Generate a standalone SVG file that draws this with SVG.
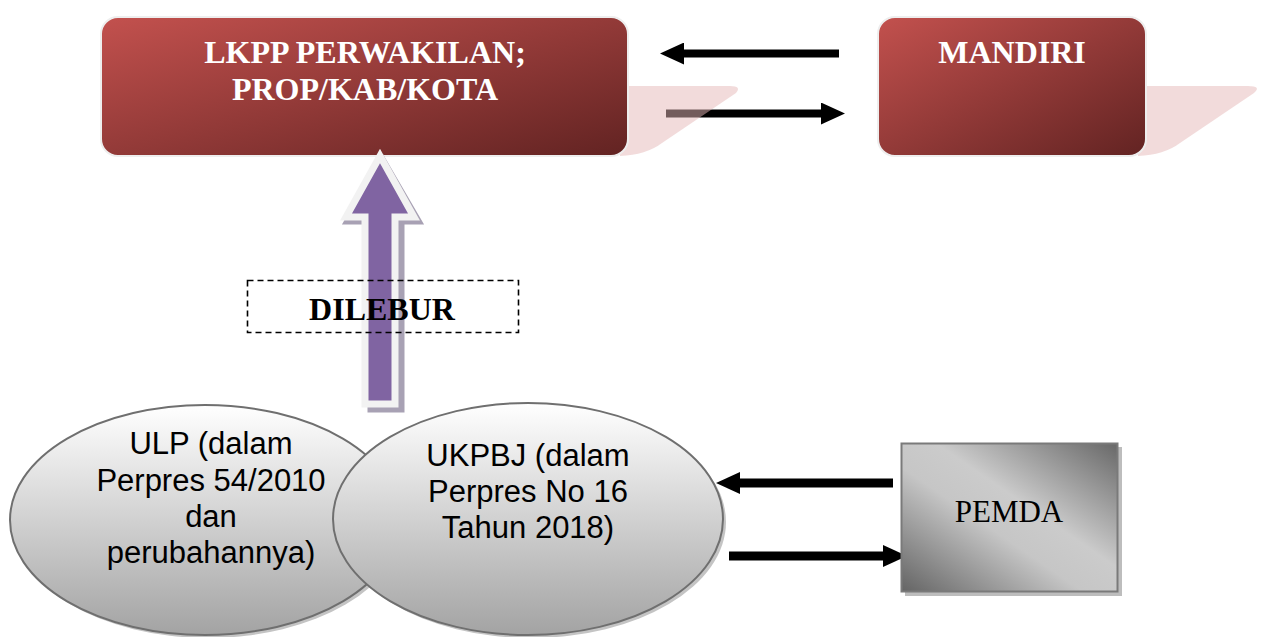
<svg xmlns="http://www.w3.org/2000/svg" width="1264" height="637" viewBox="0 0 1264 637">
<style>
.boxt{font-family:"Liberation Serif","Times New Roman",serif;font-weight:bold;font-size:32px;fill:#ffffff;text-anchor:middle}
.ellt{font-family:"Liberation Sans",Arial,sans-serif;font-size:31px;fill:#000000;text-anchor:middle}
.shad{fill:#e6b8b8;opacity:0.5}
.conn{stroke:#000000;fill:none}
</style>
<defs>
<linearGradient id="red" x1="0" y1="0" x2="1" y2="1">
<stop offset="0" stop-color="#c3514e"/>
<stop offset="1" stop-color="#622322"/>
</linearGradient>
<linearGradient id="ell" x1="0" y1="0" x2="0" y2="1">
<stop offset="0" stop-color="#ffffff"/>
<stop offset="1" stop-color="#a3a3a3"/>
</linearGradient>
<linearGradient id="gray" x1="0" y1="1" x2="1" y2="0">
<stop offset="0" stop-color="#646464"/>
<stop offset="0.42" stop-color="#c6c6c6"/>
<stop offset="0.58" stop-color="#cbcbcb"/>
<stop offset="1" stop-color="#686868"/>
</linearGradient>
<marker id="ah" markerUnits="userSpaceOnUse" markerWidth="24" markerHeight="22" refX="0" refY="11" orient="auto">
<path d="M0,0 L24,11 L0,22 z" fill="#000000"/>
</marker>
</defs>

<g id="connectors">
<line class="conn" x1="839" y1="53.5" x2="684" y2="53.5" stroke-width="8" marker-end="url(#ah)"/>
<line class="conn" x1="666" y1="113.5" x2="821" y2="113.5" stroke-width="8" marker-end="url(#ah)"/>
<line class="conn" x1="893" y1="483" x2="740" y2="483" stroke-width="9" marker-end="url(#ah)"/>
<line class="conn" x1="729" y1="556" x2="883" y2="556" stroke-width="9" marker-end="url(#ah)"/>
</g>

<g id="lkpp">
<path class="shad" d="M620,86 L730,86 Q742,86 736,93 L662,143 Q646,155 620,156 Z"/>
<rect x="101" y="17" width="527" height="139" rx="17" fill="url(#red)" stroke="#eeeeee" stroke-width="2"/>
<text class="boxt" x="365" y="63">LKPP PERWAKILAN;</text>
<text class="boxt" x="365" y="100">PROP/KAB/KOTA</text>
</g>

<g id="mandiri">
<path class="shad" d="M1138,86 L1248,86 Q1262,86 1254,93 L1180,143 Q1164,155 1138,156 Z"/>
<rect x="878" y="17" width="268" height="139" rx="17" fill="url(#red)" stroke="#eeeeee" stroke-width="2"/>
<text class="boxt" x="1012" y="63">MANDIRI</text>
</g>

<g id="merge-arrow">
<path d="M383,161 L418,221 L401,221 L401,409 L371,409 L371,221 L348,221 Z" fill="#a8a1b4" stroke="#a8a1b4" stroke-width="7" stroke-linejoin="miter"/>
<path d="M380,156 L414,217 L395,217 L395,404 L365,404 L365,217 L346,217 Z" fill="#8064a2" stroke="#f2f2f2" stroke-width="7" stroke-linejoin="miter"/>
</g>

<g id="dilebur">
<rect x="247.5" y="280.5" width="271" height="52" fill="none" stroke="#000000" stroke-width="1.6" stroke-dasharray="6,4"/>
<text x="382" y="320" font-family="'Liberation Serif','Times New Roman',serif" font-weight="bold" font-size="32" text-anchor="middle" fill="#000000">DILEBUR</text>
</g>

<g id="ulp">
<ellipse cx="208" cy="523" rx="195" ry="115" fill="#c4c4c4"/>
<ellipse cx="205" cy="520" rx="195" ry="115" fill="url(#ell)" stroke="#6f6f6f" stroke-width="2"/>
<text class="ellt" x="211" y="454">ULP (dalam</text>
<text class="ellt" x="211" y="491">Perpres 54/2010</text>
<text class="ellt" x="211" y="527">dan</text>
<text class="ellt" x="211" y="563">perubahannya)</text>
</g>

<g id="ukpbj">
<ellipse cx="531" cy="522" rx="195" ry="116" fill="#c4c4c4"/>
<ellipse cx="528" cy="519" rx="195" ry="116" fill="url(#ell)" stroke="#6f6f6f" stroke-width="2"/>
<text class="ellt" x="528" y="466">UKPBJ (dalam</text>
<text class="ellt" x="528" y="502">Perpres No 16</text>
<text class="ellt" x="528" y="538">Tahun 2018)</text>
</g>

<g id="pemda">
<rect x="905" y="447" width="217" height="149" fill="#bdbdbd"/>
<rect x="901.5" y="443.5" width="216" height="148" fill="url(#gray)" stroke="#7a7a7a" stroke-width="2"/>
<text x="1009" y="522" font-family="'Liberation Serif','Times New Roman',serif" font-size="31" text-anchor="middle" fill="#000000">PEMDA</text>
</g>
</svg>
